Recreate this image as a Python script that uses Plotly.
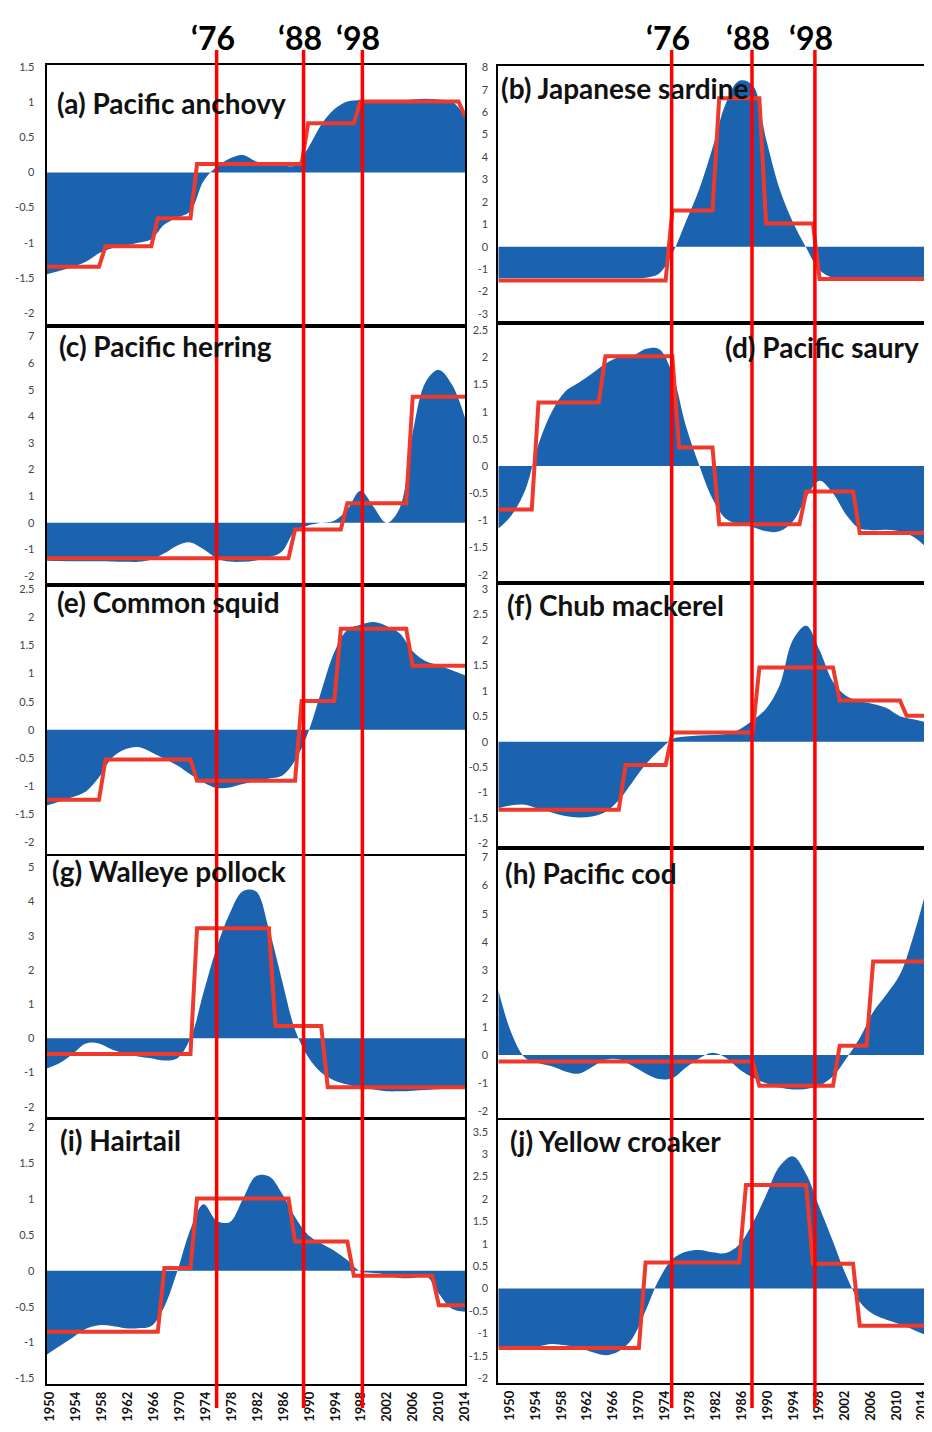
import numpy as np
import plotly.graph_objects as go

# ---------------- DATA ----------------
YEARS = list(range(1950, 2015, 2))          # smoothed-curve sampling years
XTICK_YEARS = list(range(1950, 2015, 4))    # x-axis tick labels
SHIFT_LABELS = ["\u201876", "\u201888", "\u201898"]
SHIFT_X_LEFT = [1976.0, 1989.3, 1998.3]     # hand-drawn regime-shift lines (left column)
SHIFT_X_RIGHT = [1975.9, 1987.9, 1997.3]    # hand-drawn regime-shift lines (right column)
# year span covered by the (slightly offset) tick-label strips under each column
LABEL_RANGE_LEFT = [1949.5, 2014.0]
LABEL_RANGE_RIGHT = [1948.2, 2014.7]

TITLES = ["(a) Pacific anchovy", "(b) Japanese sardine", "(c) Pacific herring",
          "(d) Pacific saury", "(e) Common squid", "(f) Chub mackerel",
          "(g) Walleye pollock", "(h) Pacific cod", "(i) Hairtail",
          "(j) Yellow croaker"]

a_curve = [-1.45, -1.40, -1.34, -1.27, -1.15, -1.08, -1.04, -1.00, -0.95, -0.74, -0.64,
           -0.55, -0.12, 0.08, 0.20, 0.25, 0.16, 0.10, 0.10, 0.10, 0.35, 0.68, 0.90,
           1.01, 1.03, 1.03, 1.03, 1.03, 1.04, 1.05, 1.04, 1.01, 0.80]
b_curve = [-1.40, -1.40, -1.40, -1.40, -1.40, -1.40, -1.40, -1.40, -1.40, -1.40, -1.40,
           -1.38, -1.20, -0.30, 1.10, 2.55, 4.40, 6.40, 7.40, 7.20, 4.80, 2.60, 1.10,
           -0.05, -1.05, -1.38, -1.42, -1.42, -1.42, -1.42, -1.42, -1.42, -1.42]
c_curve = [-1.43, -1.44, -1.45, -1.45, -1.45, -1.46, -1.47, -1.47, -1.38, -1.15, -0.85,
           -0.74, -1.00, -1.33, -1.46, -1.47, -1.42, -1.30, -1.08, -0.30, -0.10, 0.00,
           0.08, 0.50, 1.20, 0.60, 0.00, 0.55, 3.40, 5.30, 5.75, 5.20, 3.95]
d_curve = [-1.15, -0.90, -0.45, 0.40, 1.00, 1.37, 1.53, 1.70, 1.88, 2.00, 2.02, 2.15,
           2.15, 1.70, 0.75, 0.02, -0.60, -0.97, -1.07, -1.12, -1.20, -1.20, -1.02,
           -0.58, -0.27, -0.50, -0.90, -1.15, -1.18, -1.17, -1.20, -1.30, -1.50]
e_curve = [-1.35, -1.28, -1.20, -1.10, -0.85, -0.50, -0.35, -0.31, -0.40, -0.52, -0.64,
           -0.80, -0.94, -1.04, -1.03, -0.97, -0.92, -0.87, -0.82, -0.55, -0.05, 0.68,
           1.38, 1.78, 1.87, 1.92, 1.85, 1.72, 1.40, 1.22, 1.15, 1.06, 0.97]
f_curve = [-1.31, -1.25, -1.24, -1.32, -1.39, -1.46, -1.49, -1.47, -1.38, -1.15, -0.80,
           -0.45, -0.18, 0.05, 0.10, 0.12, 0.13, 0.15, 0.24, 0.42, 0.65, 1.10, 2.00,
           2.28, 1.80, 1.18, 0.90, 0.80, 0.74, 0.66, 0.50, 0.44, 0.38]
g_curve = [-0.88, -0.72, -0.45, -0.15, -0.15, -0.33, -0.45, -0.53, -0.58, -0.65, -0.58,
           0.00, 1.35, 2.65, 3.65, 4.30, 4.30, 3.20, 1.70, 0.25, -0.55, -1.00, -1.23,
           -1.35, -1.43, -1.50, -1.55, -1.55, -1.53, -1.51, -1.49, -1.47, -1.46]
h_curve = [2.30, 0.75, -0.10, -0.28, -0.40, -0.58, -0.66, -0.42, -0.17, -0.15, -0.38,
           -0.65, -0.85, -0.82, -0.45, -0.12, 0.08, -0.10, -0.50, -0.80, -1.00, -1.15,
           -1.22, -1.20, -1.08, -0.75, -0.12, 0.60, 1.52, 2.15, 2.85, 4.20, 5.90]
i_curve = [-1.17, -1.05, -0.93, -0.81, -0.76, -0.77, -0.80, -0.80, -0.77, -0.50, 0.00,
           0.58, 0.93, 0.70, 0.68, 1.00, 1.32, 1.32, 1.08, 0.75, 0.50, 0.38, 0.28, 0.15,
           -0.01, -0.03, -0.05, -0.10, -0.10, -0.07, -0.32, -0.53, -0.57]
j_curve = [-1.29, -1.30, -1.31, -1.29, -1.24, -1.27, -1.32, -1.42, -1.49, -1.40, -1.12,
           -0.50, 0.20, 0.65, 0.82, 0.86, 0.81, 0.79, 0.98, 1.46, 2.08, 2.72, 2.95, 2.55,
           1.80, 1.05, 0.28, -0.30, -0.57, -0.70, -0.80, -0.92, -1.05]

# regime means: first year of each regime and its mean value
a_step_start = [1950, 1959, 1967, 1973, 1990, 1998, 2014]
a_step_val = [-1.34, -1.05, -0.65, 0.12, 0.70, 1.01, 0.80]
b_step_start = [1950, 1976, 1983, 1990, 1998]
b_step_val = [-1.50, 1.62, 6.62, 1.04, -1.44]
c_step_start = [1950, 1988, 1996, 2006]
c_step_val = [-1.33, -0.25, 0.73, 4.74]
d_step_start = [1950, 1956, 1966, 1977, 1983, 1996, 2004]
d_step_val = [-0.80, 1.17, 2.02, 0.34, -1.07, -0.47, -1.23]
e_step_start = [1950, 1959, 1973, 1989, 1995, 2006]
e_step_val = [-1.25, -0.53, -0.91, 0.51, 1.80, 1.14]
f_step_start = [1950, 1969, 1976, 1989, 2001, 2011]
f_step_val = [-1.34, -0.46, 0.18, 1.46, 0.81, 0.51]
g_step_start = [1950, 1973, 1985, 1993]
g_step_val = [-0.46, 3.22, 0.36, -1.43]
h_step_start = [1950, 1989, 2001, 2006]
h_step_val = [-0.23, -1.09, 0.33, 3.31]
i_step_start = [1950, 1968, 1973, 1988, 1997, 2010]
i_step_val = [-0.85, 0.04, 1.01, 0.41, -0.07, -0.48]
j_step_start = [1950, 1972, 1987, 1997, 2004]
j_step_val = [-1.33, 0.58, 2.31, 0.55, -0.83]

# y-axis ranges and tick settings per panel
Y_RANGES = [[-2.185, 1.53], [-3.4, 8.06], [-2.34, 7.40], [-2.15, 2.63], [-2.27, 2.58],
            [-2.09, 3.12], [-2.33, 5.33], [-2.23, 7.33], [-1.58, 2.12], [-2.11, 3.76]]
Y_TICKS = [(-2, 1.5, 0.5), (-3, 8, 1), (-2, 7, 1), (-2, 2.5, 0.5), (-2, 2.5, 0.5),
           (-2, 3, 0.5), (-2, 5, 1), (-2, 7, 1), (-1.5, 2, 0.5), (-2, 3.5, 0.5)]

# ---------------- LAYOUT (page pixels) ----------------
W, H = 932, 1432
BODY_MARGIN = 8                       # default HTML body margin in front of the plot div
LEFT_X = (46.7, 465.0)
RIGHT_X = (498.3, 926.7)
ROWS_LEFT = [(65, 326), (326, 585), (585, 857), (856, 1118), (1119, 1384)]
ROWS_RIGHT = [(66, 323), (323, 583), (583, 848), (848, 1118), (1120, 1383)]
TITLE_POS = [(55, 103, "left"), (499, 88, "left"), (57, 346, "left"), (921, 347, "right"),
             (55, 602, "left"), (505, 605, "left"), (50, 871, "left"), (503, 873, "left"),
             (58, 1140, "left"), (508, 1141, "left")]

BLUE = "#1b63ae"
STEP_RED = "#ee3a2d"
LINE_RED = "#ff0000"

curves = [a_curve, b_curve, c_curve, d_curve, e_curve, f_curve, g_curve, h_curve, i_curve, j_curve]
steps = [(a_step_start, a_step_val), (b_step_start, b_step_val), (c_step_start, c_step_val),
         (d_step_start, d_step_val), (e_step_start, e_step_val), (f_step_start, f_step_val),
         (g_step_start, g_step_val), (h_step_start, h_step_val), (i_step_start, i_step_val),
         (j_step_start, j_step_val)]


def px_x(p):
    return (p - BODY_MARGIN) / W


def px_y(p):
    return 1 - (p - BODY_MARGIN) / H


def expand_steps(starts, vals):
    yrs = list(range(1950, 2015))
    out = []
    for y in yrs:
        v = vals[0]
        for s, val in zip(starts, vals):
            if y >= s:
                v = val
        out.append(v)
    return yrs, out


def fmt(v):
    return "%g" % v


fig = go.Figure()
layout = dict(width=W, height=H, margin=dict(l=0, r=0, t=0, b=0, pad=0), autosize=False,
              paper_bgcolor="white", plot_bgcolor="white", showlegend=False,
              font=dict(family="Lato, sans-serif", color="#333"))
annotations = []
shapes = []

for k in range(10):
    n = k + 1
    col = k % 2
    row = k // 2
    xd = LEFT_X if col == 0 else RIGHT_X
    rd = (ROWS_LEFT if col == 0 else ROWS_RIGHT)[row]
    xa = "x" if n == 1 else f"x{n}"
    ya = "y" if n == 1 else f"y{n}"

    fig.add_trace(go.Scatter(x=YEARS, y=curves[k], mode="lines",
                             line=dict(shape="spline", width=0, color=BLUE),
                             fill="tozeroy", fillcolor=BLUE,
                             xaxis=xa, yaxis=ya, hoverinfo="skip"))
    sy, sv = expand_steps(*steps[k])
    fig.add_trace(go.Scatter(x=sy, y=sv, mode="lines",
                             line=dict(color=STEP_RED, width=4),
                             xaxis=xa, yaxis=ya, hoverinfo="skip"))

    lo, hi, dt = Y_TICKS[k]
    tv = [round(v, 2) for v in np.arange(lo, hi + dt / 2, dt)]
    layout["xaxis" if n == 1 else f"xaxis{n}"] = dict(
        domain=[px_x(xd[0]), px_x(xd[1])], range=[1950, 2014], anchor=ya,
        automargin=False,
        showline=True, mirror=True, linecolor="black", linewidth=2,
        showgrid=False, zeroline=False, ticks="", showticklabels=False)
    layout["yaxis" if n == 1 else f"yaxis{n}"] = dict(
        domain=[px_y(rd[1]), px_y(rd[0])], range=Y_RANGES[k], anchor=xa,
        automargin=False,
        showline=True, mirror=True, linecolor="black", linewidth=2,
        showgrid=False, zeroline=False, ticks="",
        tickvals=tv, ticktext=[fmt(v) for v in tv],
        tickfont=dict(size=11, color="#444", family="Lato"),
        ticklabelstandoff=8 if col == 0 else 6)

    tx, ty, anc = TITLE_POS[k]
    annotations.append(dict(x=px_x(tx), y=px_y(ty), xref="paper", yref="paper",
                            text=f"<b>{TITLES[k]}</b>", showarrow=False,
                            xanchor=anc, yanchor="middle",
                            font=dict(family="Lato", size=28, color="#111")))

# year tick-label strips under the bottom panels (own axes, as in the source figure)
for n_lab, base_x, base_y, xd, rng in ((11, "x9", "y9", LEFT_X, LABEL_RANGE_LEFT),
                                        (12, "x10", "y10", RIGHT_X, LABEL_RANGE_RIGHT)):
    fig.add_trace(go.Scatter(x=[], y=[], xaxis=f"x{n_lab}", yaxis=base_y,
                             mode="lines", hoverinfo="skip"))
    layout[f"xaxis{n_lab}"] = dict(
        domain=[px_x(xd[0]), px_x(xd[1])], range=rng, anchor=base_y, overlaying=base_x,
        side="bottom", automargin=False, showline=False, showgrid=False, zeroline=False,
        ticks="", tickvals=XTICK_YEARS, ticktext=[str(v) for v in XTICK_YEARS],
        tickangle=-90, tickfont=dict(size=13, color="#111", family="Lato", weight="bold"),
        ticklabelstandoff=4)

# regime-shift vertical lines and their labels
for xref, xs in (("x", SHIFT_X_LEFT), ("x2", SHIFT_X_RIGHT)):
    for lab, xv in zip(SHIFT_LABELS, xs):
        shapes.append(dict(type="line", xref=xref, yref="paper", x0=xv, x1=xv,
                           y0=px_y(1408), y1=px_y(50), layer="above",
                           line=dict(color=LINE_RED, width=3.5)))
        annotations.append(dict(x=xv, y=px_y(38), xref=xref, yref="paper", text=f"<b>{lab}</b>",
                                showarrow=False, xanchor="center", yanchor="middle", xshift=-4,
                                font=dict(family="Lato", size=32, color="black")))

layout["annotations"] = annotations
layout["shapes"] = shapes
fig.update_layout(**layout)
fig.write_html("out.html")
